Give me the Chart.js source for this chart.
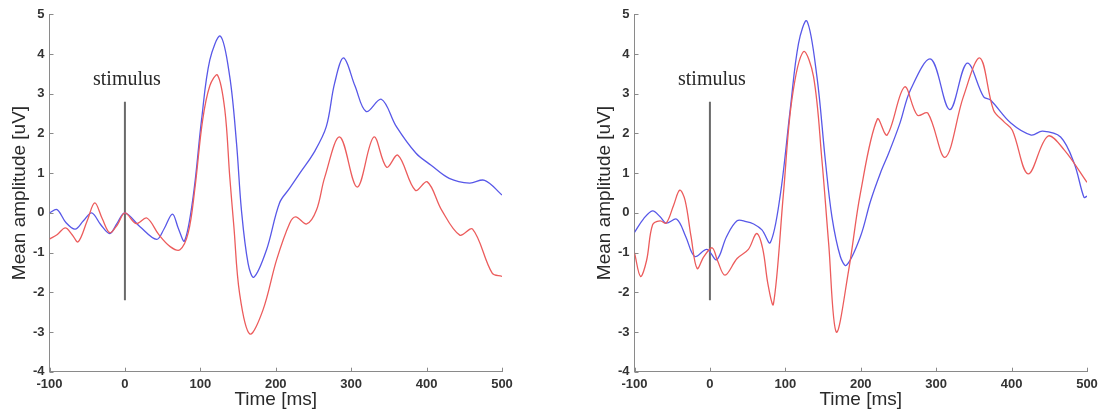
<!DOCTYPE html>
<html>
<head>
<meta charset="utf-8">
<script src="https://cdn.jsdelivr.net/npm/chart.js@4/dist/chart.umd.min.js"></script>
<style>
  html, body { margin: 0; padding: 0; background: #ffffff; }
  body { width: 1112px; height: 416px; position: relative; overflow: hidden; }
  .panel { position: absolute; top: 0; width: 527px; height: 416px; }
</style>
</head>
<body>
<div class="panel" style="left:0px"><canvas id="c1"></canvas></div>
<div class="panel" style="left:585px"><canvas id="c2"></canvas></div>
<script>
// ---- Data ----
const xTickValues = [-100, 0, 100, 200, 300, 400, 500];
const yTickValues = [-4, -3, -2, -1, 0, 1, 2, 3, 4, 5];
const xTitle = 'Time [ms]';
const yTitle = 'Mean amplitude [uV]';
const stimulusText = 'stimulus';
const stimulusLineY = [-2.2, 2.8];
const stimulusLabelY = 3.35;

// Left panel
const leftBlueT = [-100, -90, -78, -66, -55, -44, -32, -20, -10, 0, 20, 42, 52, 63, 71, 79, 90.5, 101.6, 112.6, 126.7, 139, 148, 154.5, 163.3, 171, 187.6, 205, 218.5, 232, 251, 267, 278, 290, 305, 320, 340, 360, 386, 406, 430, 457, 477, 500];
const leftBlueV = [0.0, 0.08, -0.25, -0.41, -0.2, 0.0, -0.3, -0.52, -0.25, 0.0, -0.35, -0.67, -0.4, -0.03, -0.4, -0.71, 0.41, 2.34, 3.85, 4.45, 3.43, 1.75, 0.07, -1.27, -1.62, -0.94, 0.25, 0.62, 1.0, 1.53, 2.17, 3.26, 3.9, 3.2, 2.55, 2.86, 2.17, 1.5, 1.2, 0.87, 0.75, 0.82, 0.45];
const leftRedT = [-100, -90, -79, -70, -62, -50, -40, -30, -20, -10, 0, 15, 29, 45, 60, 73, 84, 92.7, 103, 112.6, 122.8, 132.5, 139, 144.5, 152, 165.6, 183, 201, 218.5, 226.5, 241, 254, 265, 285, 308, 330, 347, 362, 385, 401, 420, 444, 461, 487, 500];
const leftRedV = [-0.66, -0.55, -0.38, -0.55, -0.73, -0.2, 0.25, -0.15, -0.5, -0.3, 0.0, -0.27, -0.13, -0.55, -0.85, -0.93, -0.5, 0.6, 2.33, 3.2, 3.47, 2.59, 0.91, -0.35, -2.02, -3.05, -2.45, -1.19, -0.26, -0.1, -0.28, 0.07, 0.9, 1.91, 0.65, 1.91, 1.15, 1.45, 0.57, 0.78, 0.07, -0.56, -0.41, -1.52, -1.6];

// Right panel
const rightBlueT = [-100, -88, -76, -66, -58, -44, -32, -20, -4, 9, 22, 36, 48, 58, 69, 80, 93, 106.4, 117.5, 128.6, 141.9, 153, 161.8, 172.9, 181, 199.5, 213, 226, 237, 252, 266, 293, 318, 341, 363, 372, 399, 426, 441, 465, 483, 496, 500];
const rightBlueV = [-0.49, -0.15, 0.05, -0.1, -0.26, -0.16, -0.6, -1.1, -0.92, -1.18, -0.6, -0.2, -0.22, -0.28, -0.43, -0.75, 0.41, 2.59, 4.27, 4.83, 3.43, 1.33, -0.1, -1.1, -1.32, -0.6, 0.3, 1.0, 1.5, 2.26, 3.1, 3.87, 2.6, 3.77, 2.92, 2.84, 2.26, 1.96, 2.06, 1.91, 1.25, 0.39, 0.42];
const rightRedT = [-100, -92, -84, -76, -66, -58, -48, -40, -33, -25, -17, -8, 3, 10, 20, 36, 51, 62, 70, 77, 84.2, 97.5, 108.6, 124, 137.4, 148.5, 157.4, 167.6, 184, 199.5, 222, 235, 258, 275, 289, 312, 336, 358, 376, 390, 401, 422, 448, 470, 500];
const rightRedV = [-1.0, -1.6, -1.2, -0.3, -0.2, -0.26, 0.2, 0.57, 0.32, -0.6, -1.4, -1.1, -0.88, -1.2, -1.57, -1.15, -0.92, -0.52, -0.9, -1.8, -2.3, 0.49, 2.84, 4.06, 3.43, 1.33, -0.76, -3.0, -1.44, 0.49, 2.36, 1.96, 3.17, 2.46, 2.51, 1.4, 2.92, 3.9, 2.59, 2.29, 2.08, 0.98, 1.93, 1.58, 0.77];

// ---- Styles ----
const BLUE = 'rgb(88, 88, 232)';
const RED = 'rgb(236, 92, 92)';
const AXIS = '#8a8a8a';
const TEXT = '#2a2a2a';
const TICKTEXT = '#333333';
const STIM = '#6a6a6a';

function pts(t, v) { return t.map((x, i) => ({ x: x, y: v[i] })); }

const innerTicks = {
  id: 'innerTicks',
  afterDraw(chart) {
    const ctx = chart.ctx, xs = chart.scales.x, ys = chart.scales.y;
    const a = chart.chartArea;
    ctx.save();
    ctx.strokeStyle = AXIS;
    ctx.lineWidth = 1;
    ctx.beginPath();
    xTickValues.forEach(v => {
      const px = Math.round(xs.getPixelForValue(v)) + 0.5;
      ctx.moveTo(px, a.bottom); ctx.lineTo(px, a.bottom - 4);
    });
    yTickValues.forEach(v => {
      const py = Math.round(ys.getPixelForValue(v)) + 0.5;
      ctx.moveTo(a.left, py); ctx.lineTo(a.left + 4, py);
    });
    ctx.stroke();
    ctx.restore();
  }
};

const stimulusLabel = {
  id: 'stimulusLabel',
  afterDatasetsDraw(chart) {
    const ctx = chart.ctx, xs = chart.scales.x, ys = chart.scales.y;
    ctx.save();
    ctx.font = '20px "Liberation Serif", "Times New Roman", serif';
    ctx.fillStyle = TEXT;
    ctx.textAlign = 'center';
    ctx.textBaseline = 'middle';
    ctx.fillText(stimulusText, xs.getPixelForValue(0) + 2, ys.getPixelForValue(stimulusLabelY));
    ctx.restore();
  }
};

const tickFont = { family: 'Arial, "Liberation Sans", sans-serif', size: 13, weight: 'bold' };
const titleFont = { family: 'Arial, "Liberation Sans", sans-serif', size: 19 };

function makeChart(id, blueT, blueV, redT, redV) {
  return new Chart(document.getElementById(id), {
    type: 'line',
    data: {
      datasets: [
        { data: pts(redT, redV), borderColor: RED, borderWidth: 1.3, pointRadius: 0, tension: 0.35, fill: false },
        { data: pts(blueT, blueV), borderColor: BLUE, borderWidth: 1.3, pointRadius: 0, tension: 0.35, fill: false },
        { data: [{ x: 0, y: stimulusLineY[0] }, { x: 0, y: stimulusLineY[1] }], borderColor: STIM, borderWidth: 2, pointRadius: 0, tension: 0, fill: false }
      ]
    },
    options: {
      responsive: true,
      maintainAspectRatio: false,
      animation: false,
      events: [],
      layout: { padding: { left: 0, right: 25, top: 14.3, bottom: 0 } },
      plugins: { legend: { display: false }, tooltip: { enabled: false } },
      scales: {
        x: {
          type: 'linear', min: -100, max: 500,
          afterBuildTicks: s => { s.ticks = xTickValues.map(v => ({ value: v })); },
          afterFit: s => { s.height = 44.3; },
          ticks: { color: TICKTEXT, font: tickFont, padding: 5, maxRotation: 0, autoSkip: false },
          grid: { display: true, drawOnChartArea: false, drawTicks: false },
          border: { display: true, color: AXIS, width: 1 },
          title: { display: true, text: xTitle, color: TEXT, font: titleFont, padding: { top: 0, bottom: 5 } }
        },
        y: {
          type: 'linear', min: -4, max: 5,
          afterBuildTicks: s => { s.ticks = yTickValues.map(v => ({ value: v })); },
          afterFit: s => { s.width = 49.5; },
          ticks: { color: TICKTEXT, font: tickFont, padding: 5, autoSkip: false },
          grid: { display: true, drawOnChartArea: false, drawTicks: false },
          border: { display: true, color: AXIS, width: 1 },
          title: { display: true, text: yTitle, color: TEXT, font: titleFont, padding: { top: 8, bottom: 0 } }
        }
      }
    },
    plugins: [innerTicks, stimulusLabel]
  });
}

makeChart('c1', leftBlueT, leftBlueV, leftRedT, leftRedV);
makeChart('c2', rightBlueT, rightBlueV, rightRedT, rightRedV);
</script>
</body>
</html>
